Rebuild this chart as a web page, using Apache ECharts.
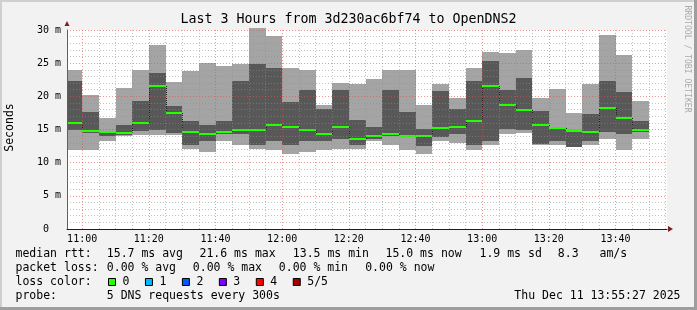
<!DOCTYPE html>
<html><head><meta charset="utf-8">
<script src="https://cdn.jsdelivr.net/npm/echarts@6/dist/echarts.min.js"></script>
<style>
html,body{margin:0;padding:0;background:#f2f2f2;}
#wrap{position:relative;width:697px;height:310px;overflow:hidden;background:#f2f2f2;}
#chart{position:absolute;left:0;top:0;width:697px;height:310px;}
.b{position:absolute;pointer-events:none;}
</style></head><body>
<div id="wrap"><div id="chart"></div>
<div class="b" style="left:0;top:0;width:697px;height:2px;background:#cfcfcf"></div>
<div class="b" style="left:0;top:0;width:2px;height:310px;background:#cfcfcf"></div>
<div class="b" style="left:0;top:307px;width:697px;height:3px;background:#9e9e9e"></div>
<div class="b" style="left:694px;top:0;width:3px;height:310px;background:#9e9e9e"></div>
</div>
<script>
// ---- data (milliseconds) ----
const windowStart = '10:55:27';
const windowEnd = '13:55:27';
const binStart = ['10:55','11:00','11:05','11:10','11:15','11:20','11:25','11:30','11:35','11:40','11:45','11:50','11:55',
  '12:00','12:05','12:10','12:15','12:20','12:25','12:30','12:35','12:40','12:45','12:50','12:55',
  '13:00','13:05','13:10','13:15','13:20','13:25','13:30','13:35','13:40','13:45'];
const binEnd = ['11:00','11:05','11:10','11:15','11:20','11:25','11:30','11:35','11:40','11:45','11:50','11:55',
  '12:00','12:05','12:10','12:15','12:20','12:25','12:30','12:35','12:40','12:45','12:50','12:55',
  '13:00','13:05','13:10','13:15','13:20','13:25','13:30','13:35','13:40','13:45','13:50'];
const pingMin    = [11.9,11.9,13.3,14.0,14.1,14.2,14.1,12.1,11.6,13.3,12.7,12.0,11.95,11.35,11.65,11.9,12.0,12.0,13.3,12.6,11.9,11.3,13.3,13.0,11.9,12.66,14.35,14.4,12.7,12.7,12.35,12.66,13.6,11.9,13.57];
const ping2      = [15.0,14.4,14.0,14.1,14.7,14.9,14.4,12.7,13.3,14.25,14.35,12.65,13.3,12.7,13.3,13.3,13.6,12.7,13.5,14.0,13.9,12.56,13.9,14.27,12.6,13.27,15.05,14.9,12.75,13.27,12.4,13.27,14.67,14.37,14.67];
const pingMedian = [16.0,14.7,14.65,14.4,16.0,21.5,17.5,14.65,14.35,14.65,15.0,15.0,15.7,15.4,15.0,14.35,15.4,13.57,14.05,14.3,14.05,14.05,15.3,15.37,16.3,21.55,18.7,17.9,15.73,15.25,14.7,14.67,18.3,16.7,15.0];
const ping4      = [22.3,17.6,14.8,15.7,19.3,23.5,18.5,16.3,15.7,16.3,22.3,24.9,24.2,19.15,20.95,18.1,20.95,16.5,15.4,20.95,17.6,15.05,20.8,18.1,22.3,25.3,20.95,22.7,17.8,15.35,14.75,17.3,22.3,20.6,16.3];
const pingMax    = [24.0,20.2,16.8,21.3,24.0,27.7,22.2,23.8,25.1,24.6,24.8,30.25,29.1,24.3,24.0,18.7,22.0,21.8,22.6,24.0,24.0,18.7,21.8,19.8,24.3,26.7,26.5,27.0,19.8,21.1,17.45,21.86,29.25,26.2,19.3];
const lossCount  = [0,0,0,0,0,0,0,0,0,0,0,0,0,0,0,0,0,0,0,0,0,0,0,0,0,0,0,0,0,0,0,0,0,0,0];
const xTickLabels = ['11:00','11:20','11:40','12:00','12:20','12:40','13:00','13:20','13:40'];
const yTickValues = [0,5,10,15,20,25,30];
const yTickLabels = ['0  ','5 m','10 m','15 m','20 m','25 m','30 m'];
const lossLabels = ['0','1','2','3','4','5/5'];
const lossColors = ['#26ff00','#00b8ff','#0059ff','#7e00ff','#ff0000','#a10000'];
const title = 'Last 3 Hours from 3d230ac6bf74 to OpenDNS2';
const statsRtt = ['15.7 ms avg','21.6 ms max','13.5 ms min','15.0 ms now','1.9 ms sd','8.3','am/s'];
const statsLoss = ['0.00 % avg','0.00 % max','0.00 % min','0.00 % now'];
const probeText = '5 DNS requests every 300s';
const stampText = 'Thu Dec 11 13:55:27 2025';

// ---- helpers ----
const toMin = s => { const p = s.split(':').map(Number); return p[0]*60 + p[1] + (p[2]||0)/60; };
const xMin = toMin(windowStart), xMax = toMin(windowEnd);
const mono = 'DejaVu Sans Mono';
const minorC = 'rgba(143,143,143,0.55)';
const majorC = 'rgba(222,79,79,0.6)';
const smokeOuter = '#a4a4a4', smokeInner = '#585858';

const seriesData = binStart.map((s, i) => [
  Math.max(toMin(s), xMin), toMin(binEnd[i]),
  pingMin[i], ping2[i], pingMedian[i], ping4[i], pingMax[i],
  i > 0 ? pingMedian[i-1] : pingMedian[i], lossCount[i]
]);

function renderItem(params, api) {
  const x0 = Math.round(api.coord([api.value(0), 0])[0]);
  const x1 = Math.round(api.coord([api.value(1), 0])[0]);
  const y = v => Math.round(api.coord([api.value(0), v])[1]);
  const yMin = y(api.value(2)), y2 = y(api.value(3)), yMed = api.coord([api.value(0), api.value(4)])[1];
  const y4 = y(api.value(5)), yMax = y(api.value(6));
  const yPrev = api.coord([api.value(0), api.value(7)])[1];
  const ch = [
    {type:'rect', shape:{x:x0, y:yMax, width:x1-x0, height:yMin-yMax}, style:{fill:smokeOuter}},
    {type:'rect', shape:{x:x0, y:y4, width:x1-x0, height:y2-y4}, style:{fill:smokeInner}}
  ];
  if (params.dataIndex > 0) {
    ch.push({type:'line', shape:{x1:x0+0.5, y1:Math.round(yPrev), x2:x0+0.5, y2:Math.round(yMed)}, style:{stroke:'#202020', lineWidth:1, lineDash:[1,1]}});
  }
  ch.push({type:'rect', shape:{x:x0, y:Math.round(yMed)-1, width:x1-x0, height:2}, style:{fill:lossColors[api.value(8)]}});
  return {type:'group', children: ch};
}

function txt(t, x, y, extra) {
  return {type:'text', x:x, y:y, silent:true,
    style:Object.assign({text:t, x:0, y:0, fontFamily:mono, fontSize:11.5, fill:'#000', align:'left', verticalAlign:'middle'}, extra||{})};
}

const graphics = [];
graphics.push(txt(title, 348.5, 19.5, {fontSize:13.3, align:'center'}));
graphics.push(Object.assign(txt('Seconds', 10.5, 127.5, {align:'center', fontSize:11.5}), {rotation: Math.PI/2}));
graphics.push(Object.assign(txt('RRDTOOL / TOBI OETIKER', 687.5, 59, {align:'center', fontSize:8.1, fill:'#aaaaaa'}), {rotation: -Math.PI/2}));
// legend rows
const rowY = [254.5, 268.3, 282, 296];
const rttX = [107.3, 200, 293.3, 386, 480, 558.3, 600];
const lossX = [107.3, 193.3, 279.3, 365.7];
graphics.push(txt('median rtt:', 15.5, rowY[0]));
statsRtt.forEach((s, i) => graphics.push(txt(s, rttX[i] - 0.5, rowY[0])));
graphics.push(txt('packet loss:', 15.5, rowY[1]));
statsLoss.forEach((s, i) => graphics.push(txt(s, lossX[i] - 0.5, rowY[1])));
graphics.push(txt('loss color:', 15.5, rowY[2]));
lossLabels.forEach((s, i) => {
  const bx = 108.5 + i * 36.95;
  graphics.push({type:'rect', silent:true, shape:{x:bx, y:278.5, width:7, height:7}, style:{fill:lossColors[i], stroke:'#000', lineWidth:1}});
  graphics.push(txt(s, bx + 14, rowY[2]));
});
graphics.push(txt('probe:', 15.5, rowY[3]));
graphics.push(txt(probeText, 106.8, rowY[3]));
graphics.push(txt(stampText, 680.5, rowY[3], {align:'right'}));

const xLabelMap = {};
xTickLabels.forEach(l => { xLabelMap[Math.round(toMin(l))] = l; });
const yLabelMap = {};
yTickValues.forEach((v, i) => { yLabelMap[v] = yTickLabels[i]; });

const chart = echarts.init(document.getElementById('chart'), null, {renderer:'canvas'});
chart.setOption({
  animation: false,
  backgroundColor: '#f2f2f2',
  grid: {left:67, top:30, width:600, height:199, show:true, backgroundColor:'#ffffff', borderWidth:0, containLabel:false},
  xAxis: [
    {type:'value', min:xMin, max:xMax, minInterval:5, maxInterval:5, position:'bottom', z:5,
     axisLine:{show:true, onZero:false, lineStyle:{color:'#1f1f1f', width:1}},
     axisTick:{show:false},
     axisLabel:{fontFamily:mono, fontSize:10, color:'#000', margin:5,
       formatter: v => { const k = Math.round(v); return (Math.abs(v-k) < 1e-6 && xLabelMap[k]) ? xLabelMap[k] : ''; }},
     splitLine:{show:true, showMinLine:false, showMaxLine:false, lineStyle:{color:[majorC, minorC, minorC, minorC], type:[1,2], width:1}}},
    {type:'value', min:xMin, max:xMax, position:'bottom', z:6,
     axisLine:{show:true, onZero:false, symbol:['none','triangle'], symbolSize:[6,5], symbolOffset:[0,3.5], lineStyle:{color:'#801f1f', width:0}},
     axisTick:{show:false}, axisLabel:{show:false}, splitLine:{show:false}}
  ],
  yAxis: [
    {type:'value', min:0, max:30, interval:1, position:'left', z:5,
     axisLine:{show:true, onZero:false, lineStyle:{color:'#606060', width:1}},
     axisTick:{show:false},
     axisLabel:{fontFamily:mono, fontSize:10, color:'#000', margin:6,
       formatter: v => (yLabelMap[v] !== undefined ? yLabelMap[v] : '')},
     splitLine:{show:true, showMinLine:false, lineStyle:{color:[minorC, minorC, minorC, minorC, majorC], type:[1,2], width:1}}},
    {type:'value', min:0, max:30, position:'left', z:6,
     axisLine:{show:true, onZero:false, symbol:['none','triangle'], symbolSize:[5,5], symbolOffset:[0,6.5], lineStyle:{color:'#801f1f', width:0}},
     axisTick:{show:false}, axisLabel:{show:false}, splitLine:{show:false}}
  ],
  series: [{
    type:'custom', xAxisIndex:0, yAxisIndex:0, z:2,
    renderItem: renderItem,
    encode: {x:[0,1], y:[2,6]},
    data: seriesData,
    silent: true
  }],
  graphic: graphics
});
</script>
</body></html>
